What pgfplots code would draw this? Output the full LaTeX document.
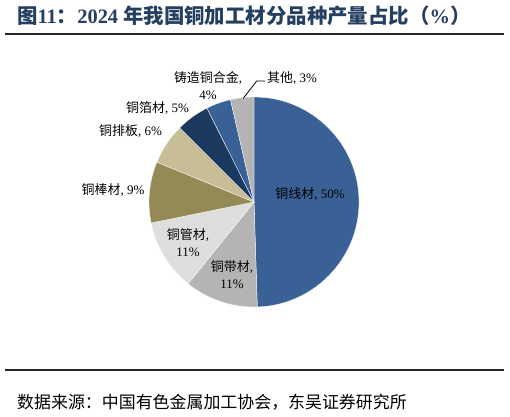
\documentclass[border=0pt]{standalone}
\usepackage{fontspec}
\setmainfont{Liberation Serif}
\newfontfamily\cjk{Noto Sans CJK SC}
\usepackage{pgfplots}
\pgfplotsset{compat=1.18}
\usepackage{pgfplotstable}

\definecolor{cwire}{HTML}{3A6196}
\definecolor{cstrip}{HTML}{B4B4B4}
\definecolor{ctube}{HTML}{DEDEDE}
\definecolor{crod}{HTML}{948A55}
\definecolor{cbar}{HTML}{C7BE98}
\definecolor{cfoil}{HTML}{1B3A5E}
\definecolor{ccast}{HTML}{3A6196}
\definecolor{cother}{HTML}{B4B4B4}
\definecolor{titleblue}{HTML}{243F60}

% share of output by product, clockwise from 12 o'clock
\pgfplotstableread{
v    col
49.5 cwire
11.3 cstrip
11.0 ctube
9.4  crod
6.3  cbar
5.1  cfoil
3.8  ccast
3.6  cother
}\shares

\begin{document}
\begin{tikzpicture}
\begin{axis}[x=1bp, y=1bp, xmin=0, xmax=510, ymin=0, ymax=416,
  hide axis, clip=false]
  \path (axis cs:0,0) (axis cs:510,416);
  \pgfplotstablegetrowsof{\shares}
  \pgfmathtruncatemacro\nrows{\pgfplotsretval-1}
  \def\cum{0}
  \pgfplotsforeachungrouped \i in {0,...,\nrows}{%
    \pgfplotstablegetelem{\i}{v}\of\shares \let\val\pgfplotsretval
    \pgfplotstablegetelem{\i}{col}\of\shares \let\slicecol\pgfplotsretval
    \pgfmathsetmacro\aa{90-3.6*\cum}
    \pgfmathsetmacro\ab{90-3.6*(\cum+\val)}
    \edef\cmd{\noexpand\fill[\slicecol, draw=white, line width=0.3pt]
      (axis cs:254,214) -- ++(\aa:105bp)
      arc[start angle=\aa, end angle=\ab, radius=105bp] -- cycle;}
    \cmd
    \pgfmathsetmacro\cum{\cum+\val}
  }

  % title and rules
  \node[anchor=west, text=titleblue, font=\fontsize{20.5}{24}\selectfont\bfseries, inner sep=0pt]
    at (axis cs:17,400) {{\cjk 图}11{\cjk ：}2024 {\cjk 年我国铜加工材分品种产量占比（}\%{\cjk ）}};
  \draw[line width=1.4bp, black!85] (axis cs:5,382) -- (axis cs:504,382);
  \draw[line width=1.4bp, black!85] (axis cs:5,46) -- (axis cs:504,46);
  \node[anchor=west, font=\fontsize{17}{20}\selectfont\cjk, inner sep=0pt]
    at (axis cs:17,13.5) {数据来源：中国有色金属加工协会，东吴证券研究所};

  % slice labels
  \begin{scope}[every node/.style={font=\fontsize{13}{17}\selectfont, inner sep=0pt, align=center}]
    \node at (axis cs:310,222) {{\cjk 铜线材}, 50\%};
    \node at (axis cs:232,141) {{\cjk 铜带材},\\11\%};
    \node at (axis cs:188,173.5) {{\cjk 铜管材},\\11\%};
    \node at (axis cs:113,226) {{\cjk 铜棒材}, 9\%};
    \node at (axis cs:130.5,285) {{\cjk 铜排板}, 6\%};
    \node at (axis cs:157.5,308.3) {{\cjk 铜箔材}, 5\%};
    \node at (axis cs:208,330.5) {{\cjk 铸造铜合金},\\4\%};
    \node[anchor=west] at (axis cs:267,338) {{\cjk 其他}, 3\%};
  \end{scope}
  \draw[black, line width=0.8pt] (axis cs:243.3,317.7) -- (axis cs:256.7,335) -- (axis cs:265,335);
\end{axis}
\end{tikzpicture}
\end{document}
